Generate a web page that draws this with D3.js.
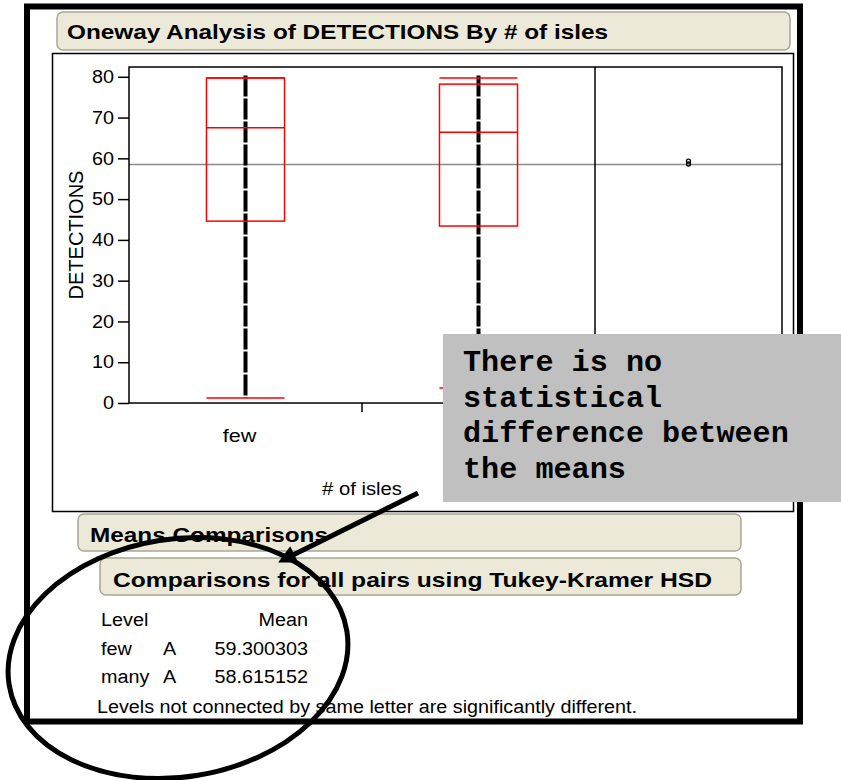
<!DOCTYPE html>
<html>
<head>
<meta charset="utf-8">
<script src="https://cdn.jsdelivr.net/npm/d3@7"></script>
<style>
  body { margin: 0; background: #fff; }
  text { font-family: Arial, "Liberation Sans", sans-serif; }
</style>
</head>
<body>
<div id="maindiv"></div>
<script>

///
/// Data
///
var levels = ["few", "many"];
var q10 = [1.2, 3.7];
var q25 = [44.6, 43.4];
var q50 = [67.5, 66.4];
var q75 = [79.7, 78.2];
var q90 = [79.7, 79.7];
var minV = [1.2, 3.7];
var maxV = [80.3, 80.3];
var means = [59.300303, 58.615152];
var grandMean = 58.5;
var yTicks = [0, 10, 20, 30, 40, 50, 60, 70, 80];
var yMinor = d3.range(0, 82, 2);
var tableHead = ["Level", "", "Mean"];
var tableRows = [["few", "A", "59.300303"], ["many", "A", "58.615152"]];
var noteLines = ["There is no", "statistical", "difference between", "the means"];

var W = 841, H = 780;

var svg = d3.select("#maindiv").append("svg")
  .attr("width", W).attr("height", H);

svg.append("rect").attr("width", W).attr("height", H).attr("fill", "#fff");

///
/// Helpers: the JMP screenshot text runs a bit wider than Arial
///
function widen(sel, f) {
  sel.each(function() {
    var len = this.getComputedTextLength();
    if (len > 0)
      d3.select(this).attr("textLength", len * f).attr("lengthAdjust", "spacingAndGlyphs");
  });
  return sel;
}

function fitTo(sel, len) {
  sel.attr("textLength", len).attr("lengthAdjust", "spacingAndGlyphs");
  return sel;
}

function headerBar(x, y, w, h, label, size, tx, ty, len) {
  svg.append("rect")
    .attr("x", x).attr("y", y).attr("width", w).attr("height", h)
    .attr("rx", 6)
    .attr("fill", "#ece9d8")
    .attr("stroke", "#a9a696").attr("stroke-width", 1.5);
  var t = svg.append("text")
    .attr("x", tx).attr("y", ty)
    .attr("font-size", size).attr("font-weight", "bold")
    .attr("fill", "#000")
    .text(label);
  fitTo(t, len);
}

headerBar(57, 12, 733, 38, "Oneway Analysis of DETECTIONS By # of isles", 21, 67, 39, 541);

// report panel
svg.append("rect")
  .attr("x", 52.5).attr("y", 53.5).attr("width", 741).attr("height", 458)
  .attr("fill", "#fff").attr("stroke", "#000").attr("stroke-width", 1.5);

///
/// Scales
///
var plotL = 129, plotR = 782, plotT = 67, plotB = 403, divX = 595;

var x = d3.scaleBand().domain(levels).range([plotL, divX]);
var y = d3.scaleLinear().domain([0, 82.4]).range([plotB, plotT]);
var boxW = x.bandwidth() * 0.335;

var g = svg.append("g");

// grand mean line
g.append("line")
  .attr("x1", plotL).attr("x2", plotR)
  .attr("y1", y(grandMean)).attr("y2", y(grandMean))
  .attr("stroke", "#8c8c8c").attr("stroke-width", 1.5);

// data column (stacked points) + quantile box
levels.forEach(function(lv, i) {
  var cx = x(lv) + x.bandwidth() / 2;
  g.append("line")
    .attr("x1", cx).attr("x2", cx)
    .attr("y1", y(maxV[i])).attr("y2", y(minV[i]))
    .attr("stroke", "#000").attr("stroke-width", 4)
    .attr("stroke-dasharray", "21 2");

  g.append("rect")
    .attr("x", cx - boxW / 2).attr("width", boxW)
    .attr("y", y(q75[i])).attr("height", y(q25[i]) - y(q75[i]))
    .attr("fill", "none").attr("stroke", "#f00").attr("stroke-width", 1.5);

  [q10[i], q50[i], q90[i]].forEach(function(v) {
    g.append("line")
      .attr("x1", cx - boxW / 2).attr("x2", cx + boxW / 2)
      .attr("y1", y(v)).attr("y2", y(v))
      .attr("stroke", "#f00").attr("stroke-width", 1.5);
  });
});

// comparison circles
var circX = (divX + plotR) / 2;
means.forEach(function(m) {
  g.append("circle")
    .attr("cx", circX).attr("cy", y(m)).attr("r", 2)
    .attr("fill", "none").attr("stroke", "#000").attr("stroke-width", 1.3);
});

// frame + divider
g.append("rect")
  .attr("x", plotL).attr("y", plotT)
  .attr("width", plotR - plotL).attr("height", plotB - plotT)
  .attr("fill", "none").attr("stroke", "#000").attr("stroke-width", 1.5);
g.append("line")
  .attr("x1", divX).attr("x2", divX).attr("y1", plotT).attr("y2", plotB)
  .attr("stroke", "#000").attr("stroke-width", 1.5);

///
/// Axes
///
var yMinorAxis = d3.axisLeft(y).tickValues(yMinor).tickSize(6).tickFormat("");
var yAxis = d3.axisLeft(y).tickValues(yTicks).tickSize(11).tickPadding(4);

var ga = svg.append("g").attr("transform", "translate(" + plotL + ",0)");
ga.call(yMinorAxis);
ga.call(yAxis);
ga.selectAll(".domain").remove();
ga.selectAll("line").attr("stroke", "#000").attr("stroke-width", 1.5);
ga.selectAll("text").attr("font-size", 18).attr("fill", "#000");
widen(ga.selectAll("text"), 1.1);

var xAxis = d3.axisBottom(x).tickSize(0).tickPadding(26);
var gx = svg.append("g").attr("transform", "translate(0," + plotB + ")").call(xAxis);
gx.select(".domain").remove();
gx.selectAll("text").attr("font-size", 18).attr("fill", "#000").attr("dx", -6);
widen(gx.selectAll("text"), 1.2);

// boundary tick between levels
svg.append("line")
  .attr("x1", x("many")).attr("x2", x("many"))
  .attr("y1", plotB).attr("y2", plotB + 9)
  .attr("stroke", "#000").attr("stroke-width", 1.5);

svg.append("text")
  .attr("transform", "translate(83,235) rotate(-90)")
  .attr("text-anchor", "middle").attr("font-size", 20)
  .text("DETECTIONS");

fitTo(svg.append("text")
  .attr("x", (plotL + divX) / 2).attr("y", 495)
  .attr("text-anchor", "middle").attr("font-size", 18)
  .text("# of isles"), 80);

///
/// Means comparisons
///
headerBar(78, 514, 663, 37, "Means Comparisons", 20, 90, 542, 238);
headerBar(100, 558, 641, 37, "Comparisons for all pairs using Tukey-Kramer HSD", 21, 113, 587, 599);

var colX = [101, 163, 308];
var colAnchor = ["start", "start", "end"];
var rowY = [626, 655, 683];

[tableHead].concat(tableRows).forEach(function(row, r) {
  row.forEach(function(cell, c) {
    var t = svg.append("text")
      .attr("x", colX[c]).attr("y", rowY[r])
      .attr("text-anchor", colAnchor[c])
      .attr("font-size", 18)
      .text(cell);
    widen(t, 1.1);
  });
});

fitTo(svg.append("text")
  .attr("x", 97).attr("y", 713).attr("font-size", 18)
  .text("Levels not connected by same letter are significantly different."), 540);

// outer frame
svg.append("rect")
  .attr("x", 27).attr("y", 6.5).attr("width", 773).attr("height", 715)
  .attr("fill", "none").attr("stroke", "#000").attr("stroke-width", 6);

///
/// Annotation
///
svg.append("rect")
  .attr("x", 443).attr("y", 334).attr("width", W - 443).attr("height", 168)
  .attr("fill", "#c0c0c0");

svg.append("g").selectAll("text")
  .data(noteLines).enter().append("text")
  .attr("x", 463)
  .attr("y", function(d, i) { return 371 + i * 35.5; })
  .style("font-family", "'Courier New', 'Liberation Mono', 'DejaVu Sans Mono', monospace")
  .attr("font-weight", "bold").attr("font-size", 29)
  .attr("textLength", function(d) { return d.length * 18.1; })
  .attr("lengthAdjust", "spacingAndGlyphs")
  .text(function(d) { return d; });

var defs = svg.append("defs");
defs.append("marker")
  .attr("id", "head").attr("viewBox", "0 0 10 10")
  .attr("refX", 2).attr("refY", 5)
  .attr("markerWidth", 5).attr("markerHeight", 3.6)
  .attr("markerUnits", "strokeWidth")
  .attr("orient", "auto")
  .append("path").attr("d", "M0,0L10,5L0,10z").attr("fill", "#000");

svg.append("line")
  .attr("x1", 418).attr("y1", 493).attr("x2", 291).attr("y2", 556)
  .attr("stroke", "#000").attr("stroke-width", 5)
  .attr("marker-end", "url(#head)");

svg.append("ellipse")
  .attr("cx", 178).attr("cy", 658).attr("rx", 171).attr("ry", 119)
  .attr("transform", "rotate(-9,178,658)")
  .attr("fill", "none").attr("stroke", "#000").attr("stroke-width", 5);

</script>
</body>
</html>
